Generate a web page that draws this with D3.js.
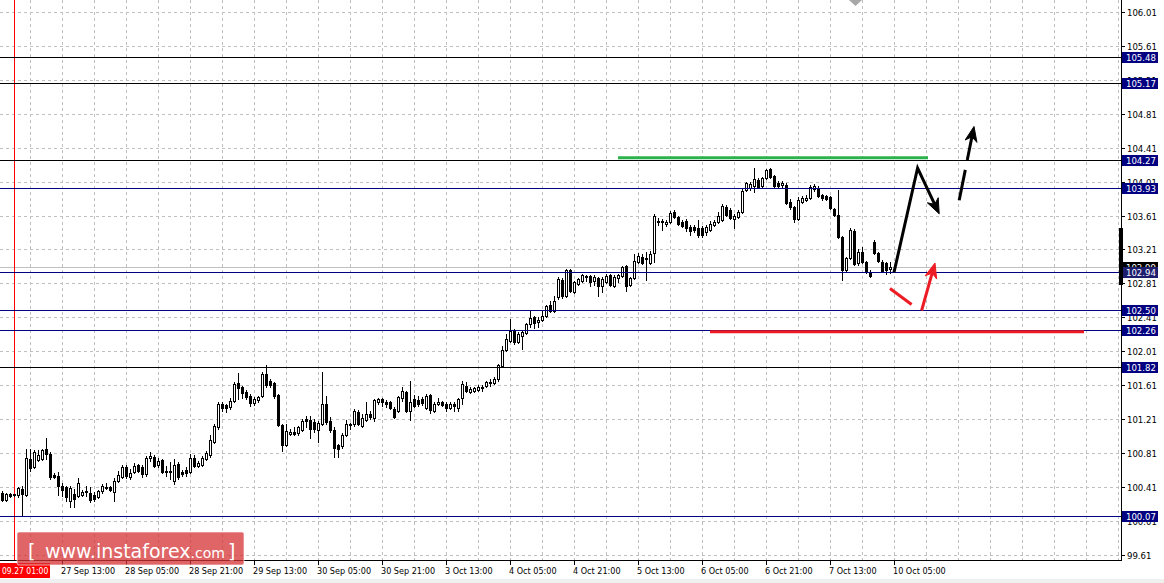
<!DOCTYPE html>
<html><head><meta charset="utf-8">
<script src="https://cdn.jsdelivr.net/npm/d3@7/dist/d3.min.js"></script>
<style>body{margin:0;background:#fff;overflow:hidden}svg{display:block}</style>
</head><body>
<svg id="chart" width="1164" height="583"></svg>
<script>
// ---- DATA (hourly candles, index 0 = 26 Sep 22:00) ----
const opens = [100.34,100.25,100.33,100.31,100.31,100.39,100.31,100.74,100.64,100.73,100.74,100.86,100.80,100.55,100.54,100.42,100.41,100.24,100.33,100.30,100.31,100.36,100.34,100.31,100.29,100.36,100.41,100.41,100.35,100.48,100.53,100.64,100.53,100.59,100.67,100.64,100.56,100.75,100.76,100.67,100.73,100.60,100.60,100.48,100.68,100.59,100.61,100.59,100.75,100.66,100.67,100.74,100.79,100.94,101.12,101.39,101.38,101.35,101.42,101.63,101.59,101.53,101.48,101.40,101.43,101.48,101.74,101.66,101.63,101.49,101.14,100.90,101.03,101.06,101.05,101.08,101.21,101.20,101.18,101.08,101.15,101.39,101.19,101.08,100.90,100.89,101.02,101.14,101.15,101.29,101.13,101.20,101.27,101.22,101.41,101.45,101.41,101.41,101.33,101.30,101.46,101.53,101.30,101.45,101.43,101.45,101.34,101.49,101.30,101.39,101.41,101.39,101.34,101.39,101.34,101.46,101.60,101.53,101.54,101.55,101.58,101.60,101.63,101.63,101.68,101.83,102.02,102.13,102.25,102.12,102.19,102.22,102.33,102.41,102.35,102.38,102.43,102.55,102.48,102.65,102.85,102.66,102.97,102.71,102.80,102.84,102.90,102.90,102.84,102.87,102.78,102.83,102.91,102.78,102.87,102.90,103.01,102.79,102.87,103.06,103.12,103.11,103.05,103.17,103.53,103.55,103.51,103.53,103.65,103.59,103.53,103.55,103.47,103.47,103.46,103.46,103.42,103.44,103.50,103.53,103.56,103.71,103.67,103.57,103.59,103.65,103.91,103.93,103.96,104.03,103.96,104.05,104.16,104.08,103.99,103.97,103.97,103.77,103.71,103.57,103.77,103.79,103.82,103.92,103.93,103.85,103.84,103.83,103.69,103.62,103.36,102.97,103.11,103.43,103.05,103.18,103.06,102.94,103.30,103.17,103.06,103.05,102.98];
const highs = [100.36,100.34,100.34,100.33,100.41,100.42,100.86,100.86,100.84,100.84,100.86,100.99,100.82,100.57,100.59,100.46,100.42,100.42,100.39,100.52,100.37,100.42,100.41,100.35,100.37,100.44,100.46,100.42,100.52,100.60,100.67,100.67,100.62,100.69,100.68,100.67,100.77,100.82,100.79,100.75,100.74,100.66,100.70,100.74,100.70,100.61,100.64,100.80,100.79,100.72,100.77,100.83,101.02,101.15,101.41,101.41,101.39,101.46,101.65,101.75,101.60,101.55,101.51,101.47,101.48,101.76,101.85,101.68,101.65,101.51,101.15,101.15,101.09,101.12,101.13,101.21,101.25,101.25,101.21,101.19,101.76,101.48,101.23,101.12,100.92,101.05,101.20,101.16,101.33,101.32,101.27,101.41,101.30,101.45,101.46,101.46,101.43,101.42,101.35,101.48,101.59,101.54,101.66,101.49,101.48,101.47,101.50,101.50,101.41,101.46,101.42,101.41,101.41,101.41,101.46,101.66,101.65,101.59,101.59,101.61,101.61,101.66,101.68,101.71,101.86,102.07,102.21,102.39,102.27,102.24,102.25,102.34,102.50,102.43,102.41,102.48,102.55,102.60,102.66,102.88,102.87,102.98,102.98,102.84,102.87,102.92,102.91,102.91,102.91,102.88,102.88,102.92,102.92,102.91,102.92,103.01,103.03,102.88,103.16,103.17,103.16,103.18,103.19,103.63,103.58,103.57,103.56,103.66,103.67,103.60,103.56,103.57,103.50,103.50,103.56,103.49,103.50,103.55,103.56,103.65,103.75,103.73,103.70,103.63,103.67,103.92,104.00,104.00,104.17,104.05,104.06,104.16,104.17,104.09,104.02,104.02,103.99,103.81,103.72,103.83,103.84,103.85,103.97,103.98,103.96,103.86,103.85,103.84,103.70,103.91,103.37,103.12,103.46,103.45,103.21,103.24,103.07,102.97,103.32,103.18,103.09,103.06,103.06];
const lows = [100.24,100.24,100.29,100.30,100.29,100.08,100.30,100.60,100.63,100.72,100.73,100.74,100.50,100.52,100.31,100.30,100.24,100.17,100.17,100.29,100.30,100.30,100.23,100.24,100.28,100.34,100.39,100.36,100.24,100.47,100.52,100.52,100.50,100.57,100.59,100.53,100.54,100.72,100.64,100.64,100.57,100.54,100.50,100.44,100.50,100.54,100.54,100.57,100.64,100.64,100.66,100.73,100.76,100.93,101.09,101.30,101.29,101.33,101.41,101.45,101.46,101.45,101.36,101.38,101.41,101.47,101.59,101.59,101.46,101.13,100.83,100.89,101.02,101.02,101.02,101.07,101.12,100.99,101.06,100.94,101.14,101.15,101.06,100.76,100.76,100.87,101.01,101.09,101.13,101.14,101.12,101.19,101.21,101.19,101.39,101.36,101.35,101.33,101.22,101.29,101.42,101.29,101.20,101.35,101.36,101.38,101.33,101.28,101.29,101.38,101.36,101.30,101.33,101.30,101.30,101.39,101.53,101.52,101.53,101.54,101.54,101.59,101.60,101.62,101.66,101.82,102.01,102.12,102.09,102.11,102.04,102.21,102.30,102.28,102.30,102.37,102.41,102.47,102.47,102.63,102.64,102.65,102.71,102.70,102.79,102.83,102.84,102.78,102.79,102.66,102.71,102.81,102.78,102.77,102.83,102.88,102.72,102.78,102.86,103.05,103.04,102.85,103.04,103.06,103.50,103.44,103.49,103.52,103.58,103.50,103.47,103.43,103.38,103.41,103.36,103.36,103.38,103.43,103.49,103.52,103.55,103.60,103.57,103.46,103.58,103.64,103.90,103.91,103.89,103.93,103.95,104.04,104.05,103.95,103.93,103.95,103.75,103.69,103.53,103.56,103.76,103.78,103.80,103.90,103.83,103.79,103.79,103.69,103.60,103.35,102.85,102.96,103.10,103.03,103.03,103.05,102.93,102.89,103.16,103.06,102.94,102.92,102.93];
const closes = [100.25,100.33,100.30,100.32,100.40,100.33,100.75,100.63,100.82,100.79,100.84,100.80,100.53,100.53,100.42,100.37,100.29,100.40,100.27,100.46,100.35,100.35,100.25,100.27,100.36,100.42,100.40,100.37,100.48,100.55,100.64,100.54,100.57,100.66,100.60,100.56,100.75,100.77,100.66,100.72,100.59,100.58,100.59,100.67,100.53,100.56,100.57,100.75,100.66,100.69,100.75,100.81,100.96,101.13,101.39,101.34,101.34,101.42,101.62,101.58,101.52,101.47,101.40,101.45,101.47,101.74,101.61,101.61,101.48,101.14,100.90,101.07,101.06,101.03,101.12,101.19,101.19,101.09,101.09,101.16,101.39,101.18,101.08,100.87,100.86,101.02,101.15,101.15,101.31,101.15,101.22,101.27,101.23,101.43,101.45,101.41,101.39,101.34,101.23,101.47,101.54,101.30,101.41,101.36,101.39,101.40,101.48,101.32,101.39,101.41,101.38,101.34,101.39,101.36,101.45,101.62,101.54,101.56,101.58,101.59,101.59,101.65,101.65,101.68,101.85,102.02,102.15,102.25,102.12,102.21,102.24,102.33,102.40,102.34,102.38,102.43,102.54,102.48,102.60,102.86,102.66,102.97,102.72,102.83,102.86,102.91,102.89,102.83,102.88,102.78,102.86,102.90,102.79,102.88,102.91,103.00,102.78,102.87,103.07,103.13,103.05,103.10,103.16,103.60,103.55,103.53,103.53,103.64,103.59,103.51,103.49,103.46,103.43,103.44,103.38,103.38,103.47,103.51,103.53,103.60,103.72,103.62,103.58,103.60,103.65,103.90,103.99,103.98,104.04,103.95,104.05,104.15,104.06,103.96,103.96,103.99,103.76,103.71,103.57,103.79,103.82,103.82,103.95,103.96,103.84,103.82,103.81,103.70,103.62,103.36,102.97,103.11,103.44,103.04,103.18,103.06,102.94,102.90,103.17,103.07,102.96,102.97,103.00];

const cursorLabel = "09.27 01:00";
const cursorIndex = 3;
const timeLabels = ["27 Sep 13:00","28 Sep 05:00","28 Sep 21:00","29 Sep 13:00","30 Sep 05:00","30 Sep 21:00","3 Oct 13:00","4 Oct 05:00","4 Oct 21:00","5 Oct 13:00","6 Oct 05:00","6 Oct 21:00","7 Oct 13:00","10 Oct 05:00"];
const timeLabelIndex = [15,31,47,63,79,95,111,127,143,159,175,191,207,223];
const gridIndex = [7,15,23,31,39,47,55,63,71,79,87,95,103,111,119,127,135,143,151,159,167,175,183,191,199,207,215,223,231,239,247,255,263,271,279];
const priceTicks = [106.01,105.61,105.21,104.81,104.41,104.01,103.61,103.21,102.81,102.41,102.01,101.61,101.21,100.81,100.41,100.01,99.61];
const levelValues = [105.48,105.17,104.27,103.93,102.94,102.50,102.26,101.82,100.07];
const levelLabels = ["105.48","105.17","104.27","103.93","102.94","102.50","102.26","101.82","100.07"];
const levelLineColors = ["#000","#000","#000","#000080","#000080","#000080","#000080","#000","#000080"];
const bidPrice = 103.00, bidLabel = "102.99";
const greenLine = {from: 154, to: 231.5, price: 104.29};
const redLine = {from: 177, to: 270.5, price: 102.24};
const blackPath = [[223,102.94],[228.9,104.17],[234.3,103.63]];
const blackDashed = [[239.3,103.79],[243,104.66]];
const redStroke = [[222,102.75],[227.4,102.56]];
const redArrow = [[229.9,102.49],[233.25,103.05]];

// ---- SCALES ----
const W = 1164, H = 583, plotRight = 1121, plotBottom = 560;
const x = d3.scaleLinear().domain([0, 279]).range([2, 1118]);
const y = d3.scaleLinear().domain([99.61, 106.01]).range([554.7, 12]);
const px = i => Math.round(x(i));
const py = p => Math.round(y(p));

const svg = d3.select("#chart");
svg.append("rect").attr("width", W).attr("height", H).attr("fill", "#fff");
svg.append("rect").attr("x",0).attr("y",579).attr("width",W).attr("height",4).attr("fill","#f0f0f0");

const grid = svg.append("g").attr("stroke", "#c0c0c0").attr("stroke-dasharray", "3,3").attr("stroke-width", 1);
priceTicks.forEach(p => grid.append("line").attr("x1",0).attr("x2",plotRight).attr("y1",py(p)+0.5).attr("y2",py(p)+0.5));
gridIndex.forEach(i => { if (x(i) < plotRight) grid.append("line").attr("y1",0).attr("y2",plotBottom).attr("x1",px(i)+0.5).attr("x2",px(i)+0.5); });

// bid line
svg.append("line").attr("x1",0).attr("x2",plotRight).attr("y1",py(bidPrice)+0.5).attr("y2",py(bidPrice)+0.5).attr("stroke","#c0c0c0");

// cursor red vertical
svg.append("line").attr("x1",px(cursorIndex)+0.5).attr("x2",px(cursorIndex)+0.5).attr("y1",0).attr("y2",plotBottom).attr("stroke","#ff0000");

// candles
const cg = svg.append("g");
opens.forEach((o, i) => {
  const c = closes[i], cx = px(i);
  cg.append("line").attr("x1",cx+0.5).attr("x2",cx+0.5).attr("y1",py(highs[i])).attr("y2",py(lows[i])+1).attr("stroke","#000");
  const top = py(Math.max(o,c)), bot = py(Math.min(o,c));
  if (bot - top < 1) {
    cg.append("line").attr("x1",cx-1).attr("x2",cx+2).attr("y1",top+0.5).attr("y2",top+0.5).attr("stroke","#000");
  } else {
    cg.append("rect").attr("x",cx-0.5).attr("y",top+0.5).attr("width",2).attr("height",bot-top)
      .attr("fill", c >= o ? "#fff" : "#000").attr("stroke","#000");
  }
});

// level lines
const lg = svg.append("g");
levelValues.forEach((v, k) => lg.append("line").attr("x1",0).attr("x2",plotRight).attr("y1",py(v)+0.5).attr("y2",py(v)+0.5).attr("stroke",levelLineColors[k]));

// green / red thick lines
svg.append("line").attr("x1",x(greenLine.from)).attr("x2",x(greenLine.to)).attr("y1",y(greenLine.price)).attr("y2",y(greenLine.price)).attr("stroke","#2bb24c").attr("stroke-width",3);
svg.append("line").attr("x1",x(redLine.from)).attr("x2",x(redLine.to)).attr("y1",y(redLine.price)).attr("y2",y(redLine.price)).attr("stroke","#ed1c24").attr("stroke-width",3);

function arrowHead(g, p0, p1, color, L, Wd) {
  const x0 = x(p0[0]), y0 = y(p0[1]), x1 = x(p1[0]), y1 = y(p1[1]);
  const dx = x1-x0, dy = y1-y0, len = Math.hypot(dx,dy), ux = dx/len, uy = dy/len, nx = -uy, ny = ux;
  const bx = x1-ux*L, by = y1-uy*L, mx = x1-ux*L*0.7, my = y1-uy*L*0.7;
  g.append("path").attr("d", `M${x1},${y1}L${bx+nx*Wd},${by+ny*Wd}L${mx},${my}L${bx-nx*Wd},${by-ny*Wd}Z`).attr("fill",color).attr("stroke",color).attr("stroke-width",1);
  return [mx, my];
}
const ag = svg.append("g");
{
  const pts = blackPath.map(d => [x(d[0]), y(d[1])]);
  const end = arrowHead(ag, blackPath[1], blackPath[2], "#000", 15, 6);
  ag.append("path").attr("d", d3.line()([pts[0], pts[1], end])).attr("fill","none").attr("stroke","#000").attr("stroke-width",3).attr("stroke-linejoin","miter");
}
{
  const end = arrowHead(ag, blackDashed[0], blackDashed[1], "#000", 15, 6);
  const s = [x(blackDashed[0][0]), y(blackDashed[0][1])];
  ag.append("line").attr("x1",s[0]).attr("y1",s[1]).attr("x2",end[0]).attr("y2",end[1]).attr("stroke","#000").attr("stroke-width",3).attr("stroke-dasharray","31,10");
}
ag.append("line").attr("x1",x(redStroke[0][0])).attr("y1",y(redStroke[0][1])).attr("x2",x(redStroke[1][0])).attr("y2",y(redStroke[1][1])).attr("stroke","#ed1c24").attr("stroke-width",3);
{
  const end = arrowHead(ag, redArrow[0], redArrow[1], "#ed1c24", 15, 6);
  ag.append("line").attr("x1",x(redArrow[0][0])).attr("y1",y(redArrow[0][1])).attr("x2",end[0]).attr("y2",end[1]).attr("stroke","#ed1c24").attr("stroke-width",3);
}

// chart shift triangle
svg.append("path").attr("d","M849,0L862,0L855.5,6Z").attr("fill","#a8a8a8");

// axes lines
svg.append("line").attr("x1",plotRight+0.5).attr("x2",plotRight+0.5).attr("y1",0).attr("y2",plotBottom+1).attr("stroke","#000");
svg.append("line").attr("x1",0).attr("x2",plotRight+1).attr("y1",plotBottom+0.5).attr("y2",plotBottom+0.5).attr("stroke","#000");

const FONT = "'DejaVu Sans Condensed','DejaVu Sans',sans-serif";
const ra = svg.append("g").attr("font-family",FONT).attr("font-size","9.5px");
priceTicks.forEach(p => {
  ra.append("line").attr("x1",plotRight).attr("x2",plotRight+4).attr("y1",py(p)+0.5).attr("y2",py(p)+0.5).attr("stroke","#000");
  ra.append("text").attr("x",plotRight+6).attr("y",py(p)+0.5).attr("dy","0.35em").attr("fill","#000").text(p.toFixed(2));
});
svg.append("rect").attr("x",plotRight-2).attr("y",py(103.61)+12).attr("width",4).attr("height",py(102.81)-py(103.61)-10).attr("fill","#000");
ra.append("rect").attr("x",plotRight+1).attr("y",py(bidPrice)-5).attr("width",36).attr("height",11).attr("fill","#000");
ra.append("text").attr("x",plotRight+5).attr("y",py(bidPrice)+0.5).attr("dy","0.35em").attr("fill","#fff").text(bidLabel);
levelValues.forEach((v, k) => {
  ra.append("rect").attr("x",plotRight+1).attr("y",py(v)-5).attr("width",36).attr("height",11).attr("fill", v === 102.94 ? "#1e1e6e" : "#000080");
  ra.append("text").attr("x",plotRight+5).attr("y",py(v)+0.5).attr("dy","0.35em").attr("fill","#fff").text(levelLabels[k]);
});

const ba = svg.append("g").attr("font-family",FONT).attr("font-size","9px");
timeLabels.forEach((t, k) => {
  const tx = px(timeLabelIndex[k]);
  ba.append("line").attr("x1",tx+0.5).attr("x2",tx+0.5).attr("y1",plotBottom).attr("y2",plotBottom+5).attr("stroke","#000");
  ba.append("text").attr("x",tx-1).attr("y",574).attr("fill","#000").text(t);
});
ba.append("rect").attr("x",0).attr("y",563).attr("width",50).attr("height",15).attr("fill","#ff0000");
ba.append("text").attr("x",2).attr("y",574).attr("font-size","8.5px").attr("fill","#fff").text(cursorLabel);

const wm = svg.append("g");
wm.append("rect").attr("x",17).attr("y",532).attr("width",227).attr("height",33).attr("rx",2).attr("fill","rgba(214,50,52,0.75)").attr("stroke","rgba(255,255,255,0.6)");
const wt = wm.append("text").attr("y",558).attr("fill","#fff").attr("font-family","'DejaVu Sans',sans-serif");
wt.append("tspan").attr("x",28).attr("font-size","19px").text("[");
wt.append("tspan").attr("x",45).attr("font-size","19px").text("www.instaforex");
wt.append("tspan").attr("font-size","14px").text(".com");
wt.append("tspan").attr("x",228).attr("font-size","19px").text("]");
</script>
</body></html>
